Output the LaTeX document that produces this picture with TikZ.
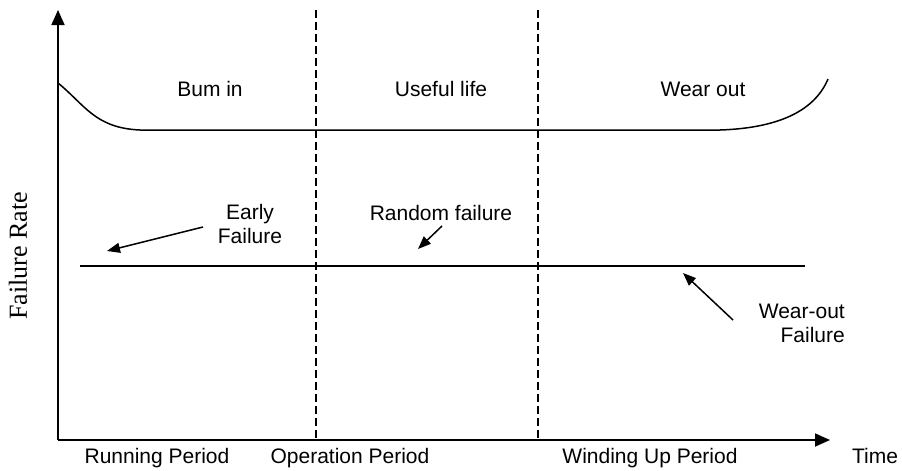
\documentclass[tikz,border=0pt]{standalone}
\usepackage{fontspec}
\setmainfont{Liberation Sans}
\newfontfamily\serifrm{Liberation Serif}
\usetikzlibrary{arrows.meta}
\begin{document}
\begin{tikzpicture}[x=1pt,y=-1pt,
  lbl/.style={font=\fontsize{21}{24}\selectfont, inner sep=0pt},
  axisline/.style={line width=1.8pt, -{Triangle[length=15pt,width=13pt]}},
  curveline/.style={line width=1.5pt},
  divider/.style={line width=1.5pt, dash pattern=on 8pt off 4pt},
  pointer/.style={line width=1.5pt, -{Triangle[length=13pt,width=10pt]}}]
\useasboundingbox (0,0) rectangle (902,471);
% axes
\coordinate (origin) at (58,440);
\coordinate (ytip) at (58,10);
\coordinate (xtip) at (830,440);
\draw[axisline] (origin) -- (ytip);
\draw[axisline] (origin) -- (xtip);
% dividers
\coordinate (d1t) at (316,10);
\coordinate (d1b) at (316,440);
\coordinate (d2t) at (538,10);
\coordinate (d2b) at (538,440);
\draw[divider] (d1t) -- (d1b);
\draw[divider] (d2t) -- (d2b);
% bathtub curve
\coordinate (cs) at (58,83);
\coordinate (cf1) at (140,130);
\coordinate (cf2) at (720,130);
\coordinate (ce) at (828,79);
\draw[curveline] (cs) .. controls (85,105) and (95,128) .. (cf1) -- (cf2)
  .. controls (780,128) and (815,110) .. (ce);
% constant failure line
\coordinate (hl) at (80,266);
\coordinate (hr) at (805,266);
\draw[curveline] (hl) -- (hr);
% top labels
\node[lbl, anchor=base] (burn) at (210,96) {Bum in};
\node[lbl, anchor=base] (useful) at (441,96) {Useful life};
\node[lbl, anchor=base] (wear) at (703,96) {Wear out};
% annotations
\node[lbl, anchor=base, align=center] (early) at (250,243) {Early\\Failure};
\node[lbl, anchor=base] (random) at (441,220) {Random failure};
\node[lbl, anchor=base east, align=right] (wofail) at (845,342) {Wear-out\\Failure};
\coordinate (a1s) at (203,227);
\coordinate (a1e) at (107,251);
\coordinate (a2s) at (442,226);
\coordinate (a2e) at (418,249);
\coordinate (a3s) at (733,320);
\coordinate (a3e) at (683,273);
\draw[pointer] (a1s) -- (a1e);
\draw[pointer] (a2s) -- (a2e);
\draw[pointer] (a3s) -- (a3e);
% bottom labels
\node[lbl, anchor=base] (running) at (157,463) {Running Period};
\node[lbl, anchor=base] (operation) at (350,463) {Operation Period};
\node[lbl, anchor=base] (winding) at (650,463) {Winding Up Period};
\node[lbl, anchor=base] (time) at (875,463) {Time};
% y label
\node[font=\serifrm\fontsize{26}{30}\selectfont, rotate=90, inner sep=0pt] (ylab) at (18,256) {Failure Rate};
\end{tikzpicture}
\end{document}
